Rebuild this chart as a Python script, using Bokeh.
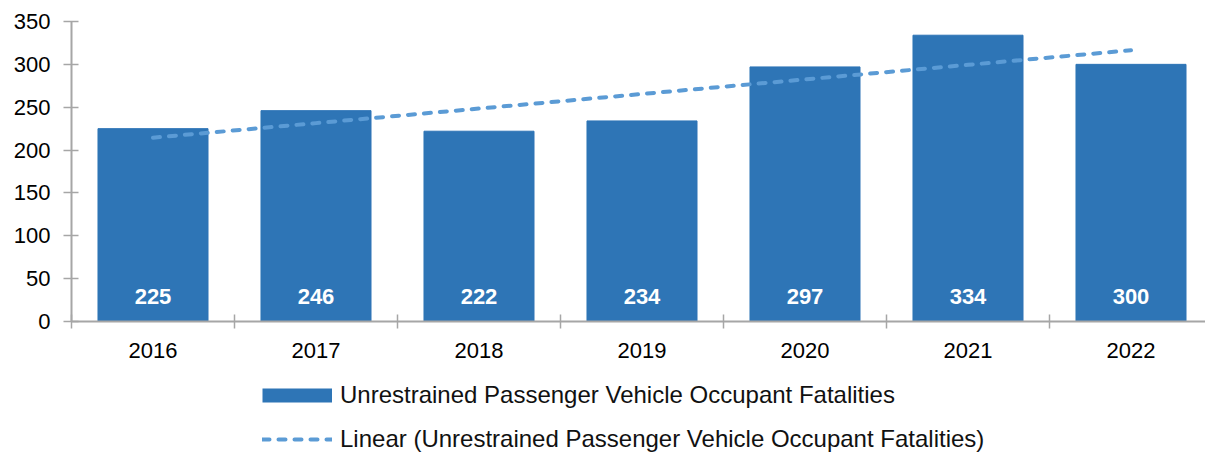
from bokeh.plotting import figure
from bokeh.models import (Range1d, FixedTicker, ColumnDataSource, LabelSet, Legend, LegendItem)
from bokeh.core.properties import value
from bokeh.layouts import column
from bokeh.embed import file_html
from bokeh.resources import INLINE
import numpy as np

years = ["2016", "2017", "2018", "2019", "2020", "2021", "2022"]
fatalities = [225, 246, 222, 234, 297, 334, 300]
y_ticks = [0, 50, 100, 150, 200, 250, 300, 350]
series_name = "Unrestrained Passenger Vehicle Occupant Fatalities"
trend_name = "Linear (Unrestrained Passenger Vehicle Occupant Fatalities)"

BAR = "#2E75B6"
TREND = "#5B9BD5"
AXIS = "#A6A6A6"
FONT = "Liberation Sans"

idx = np.arange(len(years))
slope, intercept = np.polyfit(idx, np.array(fatalities, dtype=float), 1)
trend = slope * idx + intercept

src = ColumnDataSource(dict(x=idx, top=fatalities, lbl=[str(v) for v in fatalities],
                            base=[0] * len(years)))

W = 1205
MAIN_H, LEG_H = 375, 78
LEFT, TOP, BOTTOM = 71, 21, 54
CAT_PX = 163.0
frame_w = W - LEFT

p = figure(width=W, height=MAIN_H, output_backend="svg", toolbar_location=None,
           x_range=Range1d(-0.5, -0.5 + frame_w / CAT_PX), y_range=Range1d(0, 350),
           min_border_left=LEFT, min_border_top=TOP, min_border_right=0,
           min_border_bottom=BOTTOM)
p.outline_line_color = None
p.xgrid.visible = False
p.ygrid.visible = False

bars = p.vbar(x="x", top="top", width=0.675, source=src, fill_color=BAR, line_color=BAR)
p.line(idx, trend, line_color=TREND, line_width=4, line_dash="7 9", line_cap="round")

labels = LabelSet(x="x", y="base", text="lbl", source=src, y_offset=25,
                  text_color="white", text_font=value(FONT), text_font_size="22px",
                  text_font_style="bold", text_align="center", text_baseline="middle")
p.add_layout(labels)

xa = p.xaxis[0]
xa.ticker = FixedTicker(ticks=list(idx), minor_ticks=[i - 0.5 for i in range(len(years))])
xa.major_label_overrides = {int(i): y for i, y in zip(idx, years)}
xa.major_tick_line_color = None
xa.major_tick_in = 0
xa.major_tick_out = 0
xa.minor_tick_line_color = AXIS
xa.minor_tick_line_width = 1.5
xa.minor_tick_in = 7
xa.minor_tick_out = 7
xa.axis_line_color = AXIS
xa.axis_line_width = 2
xa.major_label_text_font = FONT
xa.major_label_text_font_size = "22px"
xa.major_label_text_color = "black"
xa.major_label_standoff = 14

ya = p.yaxis[0]
ya.ticker = FixedTicker(ticks=y_ticks, minor_ticks=[])
ya.major_tick_line_color = AXIS
ya.major_tick_line_width = 1.5
ya.major_tick_in = 7
ya.major_tick_out = 8
ya.axis_line_color = AXIS
ya.axis_line_width = 2
ya.major_label_text_font = FONT
ya.major_label_text_font_size = "22px"
ya.major_label_text_color = "black"
ya.major_label_standoff = 13

# legend strip below the chart (its frame is aligned with the chart's frame)
lp = figure(width=W, height=LEG_H, output_backend="svg", toolbar_location=None,
            x_range=Range1d(0, 1), y_range=Range1d(0, 1),
            x_axis_type=None, y_axis_type=None, min_border=0,
            min_border_left=LEFT, min_border_right=0)
lp.outline_line_color = None
lp.xgrid.visible = False
lp.ygrid.visible = False
nan = [float("nan")]
sw_bar = lp.line(x=nan, y=nan, line_color=BAR, line_width=14, line_cap="butt")
sw_trend = lp.line(x=nan, y=nan, line_color=TREND, line_width=4, line_dash="7 9",
                   line_cap="round")

legend = Legend(items=[LegendItem(label=series_name, renderers=[sw_bar]),
                       LegendItem(label=trend_name, renderers=[sw_trend])],
                location=(262 - LEFT, 0), orientation="vertical",
                glyph_width=70, glyph_height=24, label_height=24,
                label_text_font=FONT, label_text_baseline="middle",
                label_text_font_size="24px", label_text_color="#111111",
                label_standoff=8, spacing=16, padding=0, margin=0,
                border_line_color=None, background_fill_alpha=0)
lp.add_layout(legend)

layout = column(p, lp, spacing=0)
open("out.html", "w").write(file_html(layout, INLINE))
